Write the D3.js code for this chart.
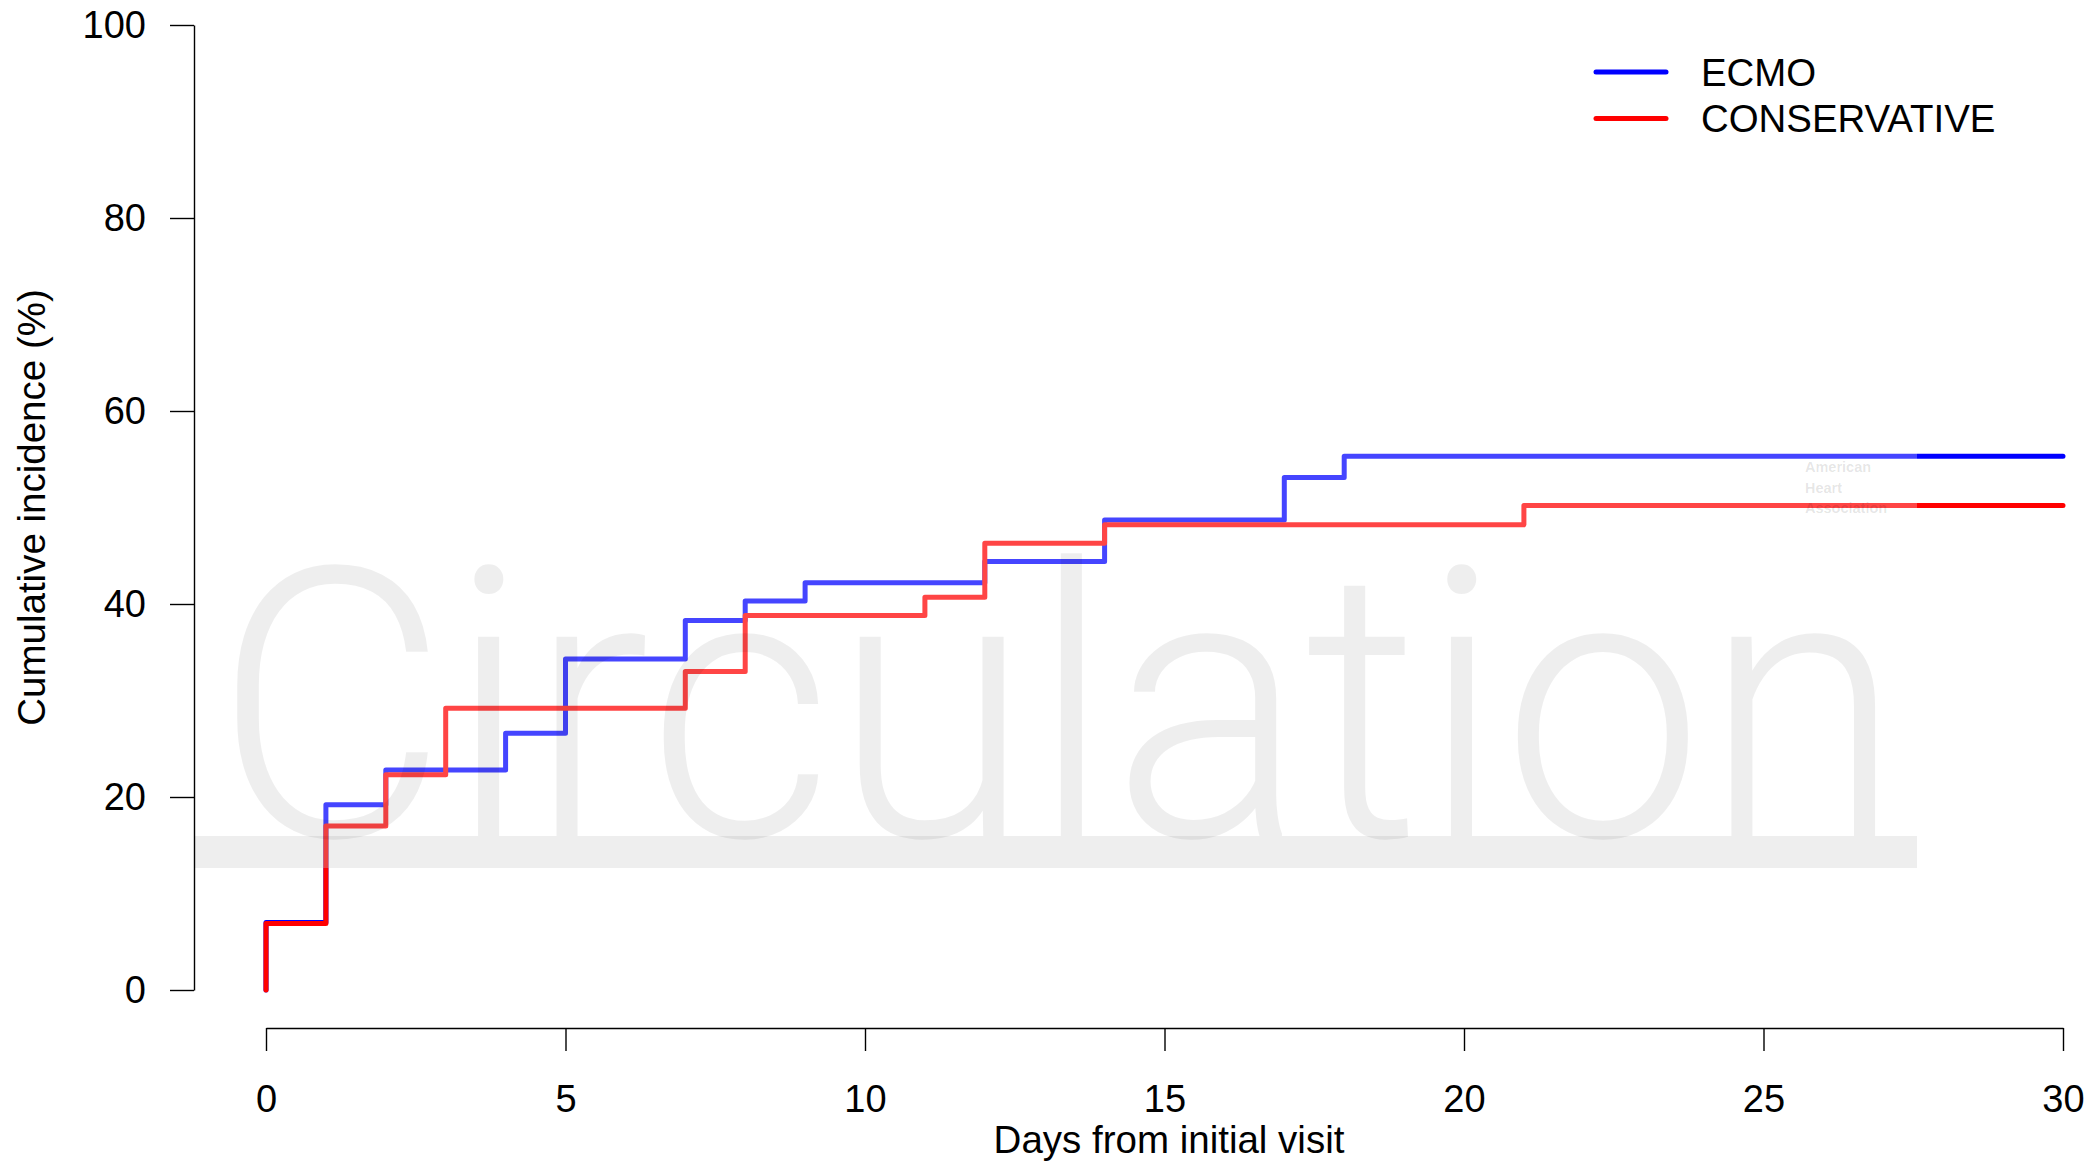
<!DOCTYPE html>
<html><head><meta charset="utf-8">
<script src="https://cdn.jsdelivr.net/npm/d3@7"></script>
<style>body{margin:0;background:#fff} svg{display:block}</style>
</head><body>
<svg id="chart" width="2087" height="1162"></svg>
<script>
// ---- data ----
const ecmoDays     = [0, 0,   1,    2,    4,    5,    7,    8,    9,    12,   14,   17,   18,   30];
const ecmoValues   = [0, 7.0, 19.2, 22.8, 26.6, 34.3, 38.3, 40.3, 42.2, 44.4, 48.7, 53.1, 55.3, 55.3];
const consDays     = [0, 0,   1,    2,    3,    7,    8,    11,   12,   14,   21,   30];
const consValues   = [0, 6.9, 17.0, 22.3, 29.2, 33.0, 38.8, 40.7, 46.3, 48.2, 50.2, 50.2];
const xTicks = [0, 5, 10, 15, 20, 25, 30];
const yTicks = [0, 20, 40, 60, 80, 100];
const seriesNames  = ["ECMO", "CONSERVATIVE"];
const seriesColors = ["#0000ff", "#ff0000"];
const xTitle = "Days from initial visit";
const yTitle = "Cumulative incidence (%)";

// ---- layout ----
const svg = d3.select("#chart");
const FONT = "'Liberation Sans', Arial, Helvetica, sans-serif";
const x = d3.scaleLinear().domain([0, 30]).range([266, 2063]);
const y = d3.scaleLinear().domain([0, 100]).range([990, 25]);
const xAxisY = 1028, yAxisX = 194;

const series = [
  {name: seriesNames[0], color: seriesColors[0], pts: ecmoDays.map((d, i) => [d, ecmoValues[i]])},
  {name: seriesNames[1], color: seriesColors[1], pts: consDays.map((d, i) => [d, consValues[i]])}
];

const line = d3.line().x(d => x(d[0])).y(d => y(d[1])).curve(d3.curveStepAfter);

// curves
svg.append("g").selectAll("path").data(series).join("path")
  .attr("d", d => line(d.pts))
  .attr("fill", "none")
  .attr("stroke", d => d.color)
  .attr("stroke-width", 5)
  .attr("stroke-linejoin", "round")
  .attr("stroke-linecap", "round");

// watermark overlay (journal watermark in the reference)
const wm = svg.append("g").attr("pointer-events", "none");
wm.append("rect").attr("x", yAxisX).attr("y", 300).attr("width", 1917 - yAxisX).attr("height", 868 - 300)
  .attr("fill", "#fff").attr("opacity", 0.27);
wm.append("text").attr("x", 214).attr("y", 836)
  .attr("font-family", "Roboto, 'Liberation Sans', sans-serif").attr("font-weight", 300)
  .attr("font-size", 377).attr("textLength", 1688).attr("lengthAdjust", "spacingAndGlyphs")
  .attr("fill", "#000").attr("fill-opacity", 0.068).text("Circulation");
wm.append("rect").attr("x", yAxisX).attr("y", 836).attr("width", 1917 - yAxisX).attr("height", 32)
  .attr("fill", "#000").attr("fill-opacity", 0.068);
const aha = wm.append("text").attr("x", 1805).attr("y", 472)
  .attr("font-family", FONT).attr("font-weight", "bold").attr("font-size", 14.5)
  .attr("fill", "#000").attr("fill-opacity", 0.11);
["American", "Heart", "Association"].forEach((t, i) => {
  aha.append("tspan").attr("x", 1805).attr("dy", i === 0 ? 0 : 20.5).text(t);
});

// axes
const yAxis = svg.append("g").attr("transform", `translate(${yAxisX},0)`)
  .call(d3.axisLeft(y).tickValues(yTicks).tickFormat(d3.format("d")).tickSize(24).tickSizeOuter(0).tickPadding(24));
const xAxis = svg.append("g").attr("transform", `translate(0,${xAxisY})`)
  .call(d3.axisBottom(x).tickValues(xTicks).tickFormat(d3.format("d")).tickSize(23).tickSizeOuter(0).tickPadding(34));
[xAxis, yAxis].forEach(g => {
  g.attr("font-family", FONT).attr("font-size", 38);
  g.selectAll("path, line").attr("stroke", "#000").attr("stroke-width", 1.4);
  g.selectAll("text").attr("fill", "#000");
});

// axis titles
svg.append("text").attr("x", 1169).attr("y", 1153)
  .attr("text-anchor", "middle").attr("font-family", FONT).attr("font-size", 38.5)
  .attr("fill", "#000").text(xTitle);
svg.append("text").attr("transform", `translate(45,${(y(0) + y(100)) / 2}) rotate(-90)`)
  .attr("text-anchor", "middle").attr("font-family", FONT).attr("font-size", 38.5)
  .attr("fill", "#000").text(yTitle);

// legend
const leg = svg.append("g");
series.forEach((s, i) => {
  const ly = 72 + i * 46.5;
  leg.append("line").attr("x1", 1596).attr("x2", 1666).attr("y1", ly).attr("y2", ly)
    .attr("stroke", s.color).attr("stroke-width", 5).attr("stroke-linecap", "round");
  leg.append("text").attr("x", 1701).attr("y", ly).attr("dy", "0.36em")
    .attr("font-family", FONT).attr("font-size", 38.4).attr("fill", "#000").text(s.name);
});
</script>
</body></html>
